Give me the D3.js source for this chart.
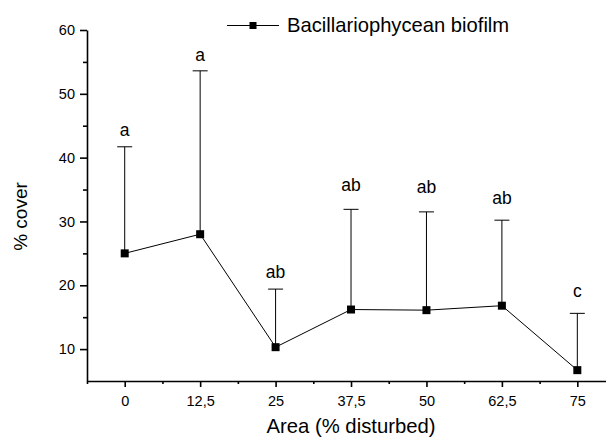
<!DOCTYPE html>
<html>
<meta charset="utf-8">
<head>
    <script src="https://d3js.org/d3.v7.min.js"></script>
    <style>
        body { margin: 0; background: #fff; }
        text { font-family: "Liberation Sans", Arial, sans-serif; fill: #000; }
    </style>
</head>
<body>
<div id="chart"></div>
<script>

// data
var areas = [0, 12.5, 25, 37.5, 50, 62.5, 75];
var areaLabels = ["0", "12,5", "25", "37,5", "50", "62,5", "75"];
var cover = [25.0, 28.0, 10.3, 16.2, 16.1, 16.8, 6.7];
var coverUpper = [41.7, 53.6, 19.4, 31.9, 31.5, 30.2, 15.6];
var letters = ["a", "a", "ab", "ab", "ab", "ab", "c"];
var letterAt = [43.4, 55.1, 21.2, 34.8, 34.4, 32.7, 18.2];
var yMajor = [10, 20, 30, 40, 50, 60];
var yMinor = [15, 25, 35, 45, 55];
var xMinor = [-6.25, 6.25, 18.75, 31.25, 43.75, 56.25, 68.75];

var W = 606, H = 437;

var svg = d3.select("#chart").append("svg")
    .attr("width", W)
    .attr("height", H);

var x = d3.scaleLinear().domain([-6.25, 80]).range([87, 607.5]);
var y = d3.scaleLinear().domain([5, 60]).range([381, 30]);

// ---- axes
svg.append("g")
    .attr("transform", "translate(" + x(-6.25) + ",0)")
    .call(d3.axisLeft(y).tickValues(yMajor).tickSize(7).tickPadding(5).tickSizeOuter(0));
svg.append("g")
    .attr("transform", "translate(" + x(-6.25) + ",0)")
    .call(d3.axisLeft(y).tickValues(yMinor).tickSize(4).tickFormat("").tickSizeOuter(0))
    .select(".domain").remove();

svg.append("g")
    .attr("transform", "translate(0," + y(5) + ")")
    .call(d3.axisBottom(x).tickValues(areas).tickSize(6).tickPadding(9).tickSizeOuter(0)
        .tickFormat(function(d, i){ return areaLabels[i]; }));
svg.append("g")
    .attr("transform", "translate(0," + y(5) + ")")
    .call(d3.axisBottom(x).tickValues(xMinor).tickSize(3).tickFormat("").tickSizeOuter(0))
    .select(".domain").remove();

svg.selectAll(".domain, .tick line")
    .attr("stroke", "#000")
    .attr("stroke-width", 1.6);
svg.selectAll(".tick text")
    .style("font-size", "14.5px")
    .style("font-family", "'Liberation Sans', Arial, sans-serif")
    .attr("fill", "#000");

// axis titles
svg.append("text")
    .attr("transform", "translate(26.5,216.5) rotate(-90)")
    .attr("text-anchor", "middle")
    .style("font-size", "19px")
    .text("% cover");

svg.append("text")
    .attr("x", 351)
    .attr("y", 433)
    .attr("text-anchor", "middle")
    .style("font-size", "20.3px")
    .text("Area (% disturbed)");

// ---- error bars (upper only)
var pts = areas.map(function(a, i){
    return { a: a, v: cover[i], up: coverUpper[i], lab: letters[i], ly: letterAt[i] };
});

svg.selectAll("line.err")
    .data(pts).enter()
    .append("line")
    .attr("class", "err")
    .attr("x1", function(d){ return x(d.a); })
    .attr("x2", function(d){ return x(d.a); })
    .attr("y1", function(d){ return y(d.v); })
    .attr("y2", function(d){ return y(d.up); })
    .attr("stroke", "#000")
    .attr("stroke-width", 1);

svg.selectAll("line.cap")
    .data(pts).enter()
    .append("line")
    .attr("class", "cap")
    .attr("x1", function(d){ return x(d.a) - 7.5; })
    .attr("x2", function(d){ return x(d.a) + 7.5; })
    .attr("y1", function(d){ return y(d.up); })
    .attr("y2", function(d){ return y(d.up); })
    .attr("stroke", "#000")
    .attr("stroke-width", 1);

// ---- line + markers
var line = d3.line()
    .x(function(d){ return x(d.a); })
    .y(function(d){ return y(d.v); });

svg.append("path")
    .datum(pts)
    .attr("d", line)
    .attr("fill", "none")
    .attr("stroke", "#000")
    .attr("stroke-width", 1);

svg.selectAll("rect.mk")
    .data(pts).enter()
    .append("rect")
    .attr("class", "mk")
    .attr("x", function(d){ return x(d.a) - 4; })
    .attr("y", function(d){ return y(d.v) - 4; })
    .attr("width", 8)
    .attr("height", 8)
    .attr("fill", "#000");

// significance letters
svg.selectAll("text.sig")
    .data(pts).enter()
    .append("text")
    .attr("class", "sig")
    .attr("x", function(d){ return x(d.a); })
    .attr("y", function(d){ return y(d.ly); })
    .attr("text-anchor", "middle")
    .style("font-size", "17.5px")
    .text(function(d){ return d.lab; });

// ---- legend
var leg = svg.append("g").attr("transform", "translate(227,25.5)");
leg.append("line")
    .attr("x1", 0).attr("x2", 52)
    .attr("stroke", "#000").attr("stroke-width", 1);
leg.append("rect")
    .attr("x", 22.5).attr("y", -3.5)
    .attr("width", 7).attr("height", 7)
    .attr("fill", "#000");
leg.append("text")
    .attr("x", 60)
    .attr("y", 6.5)
    .style("font-size", "20.2px")
    .text("Bacillariophycean biofilm");

</script>
</body>
</html>
